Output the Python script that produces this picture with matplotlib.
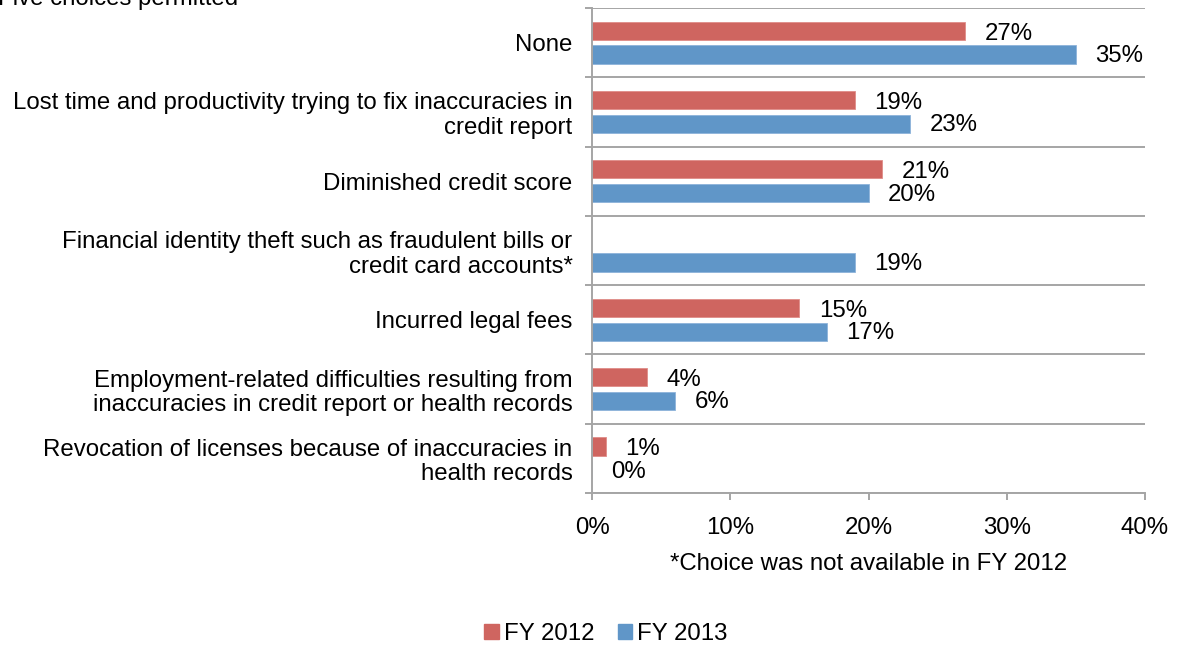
import matplotlib.pyplot as plt
import numpy as np

plt.rcParams['font.family'] = ['Liberation Sans', 'DejaVu Sans']

categories = [
    "None",
    "Lost time and productivity trying to fix inaccuracies in\ncredit report",
    "Diminished credit score",
    "Financial identity theft such as fraudulent bills or\ncredit card accounts*",
    "Incurred legal fees",
    "Employment-related difficulties resulting from\ninaccuracies in credit report or health records",
    "Revocation of licenses because of inaccuracies in\nhealth records",
]
fy2012 = [27, 19, 21, None, 15, 4, 1]
fy2013 = [35, 23, 20, 19, 17, 6, 0]

red = "#CF6560"
blue = "#6096C8"
grid_grey = "#A5A5A5"
fs = 17.3

fig = plt.figure(figsize=(11.77, 6.47), dpi=100)
ax = fig.add_axes([592 / 1177, 1 - 493 / 647, (1145 - 592) / 1177, (493 - 8) / 647])

y = np.arange(len(categories))
off = 0.172
h = 0.265

for i, (a, b) in enumerate(zip(fy2012, fy2013)):
    if a is not None:
        ax.barh(y[i] - off, a, height=h, color=red, edgecolor="#E08C88", linewidth=0.6)
        ax.annotate(f"{a}%", (a, y[i] - off), xytext=(14, -2), textcoords="offset points",
                    va="center", ha="left", fontsize=fs)
    ax.barh(y[i] + off, b, height=h, color=blue, edgecolor="#8DB3DA", linewidth=0.6)
    ax.annotate(f"{b}%", (b, y[i] + off), xytext=(14, -1), textcoords="offset points",
                va="center", ha="left", fontsize=fs)

ax.set_xlim(0, 40)
ax.set_ylim(len(categories) - 0.5, -0.5)
ax.set_xticks([0, 10, 20, 30, 40])
ax.set_xticklabels([f"{t}%" for t in [0, 10, 20, 30, 40]], fontsize=fs)
ax.set_yticks(y)
ax.set_yticklabels(categories, fontsize=fs, linespacing=1.15)
ax.tick_params(axis="y", which="major", length=0, pad=14)
ax.set_yticks(np.arange(-0.5, len(categories) + 0.5, 1), minor=True)
ax.tick_params(axis="y", which="minor", length=5, width=1.4, color=grid_grey)
ax.tick_params(axis="x", length=5, width=1.4, color=grid_grey, pad=12)
ax.grid(axis="y", which="minor", color=grid_grey, linewidth=1.4)
ax.set_axisbelow(True)

for s in ["top", "right"]:
    ax.spines[s].set_visible(False)
for s in ["left", "bottom"]:
    ax.spines[s].set_color(grid_grey)
    ax.spines[s].set_linewidth(1.4)

ax.set_xlabel("*Choice was not available in FY 2012", fontsize=fs, labelpad=10)

fig.text(-0.002, 1 - 5 / 647, "Five choices permitted", fontsize=fs, va="baseline", ha="left")

handles = [plt.Rectangle((0, 0), 1, 1, color=red), plt.Rectangle((0, 0), 1, 1, color=blue)]
fig.legend(handles, ["FY 2012", "FY 2013"], loc="center", bbox_to_anchor=(606 / 1177, 1 - 634 / 647),
           ncol=2, frameon=False, fontsize=fs, handlelength=0.6, handleheight=0.6,
           handletextpad=0.2, columnspacing=1.0)

fig.savefig("out.png", dpi=100)
